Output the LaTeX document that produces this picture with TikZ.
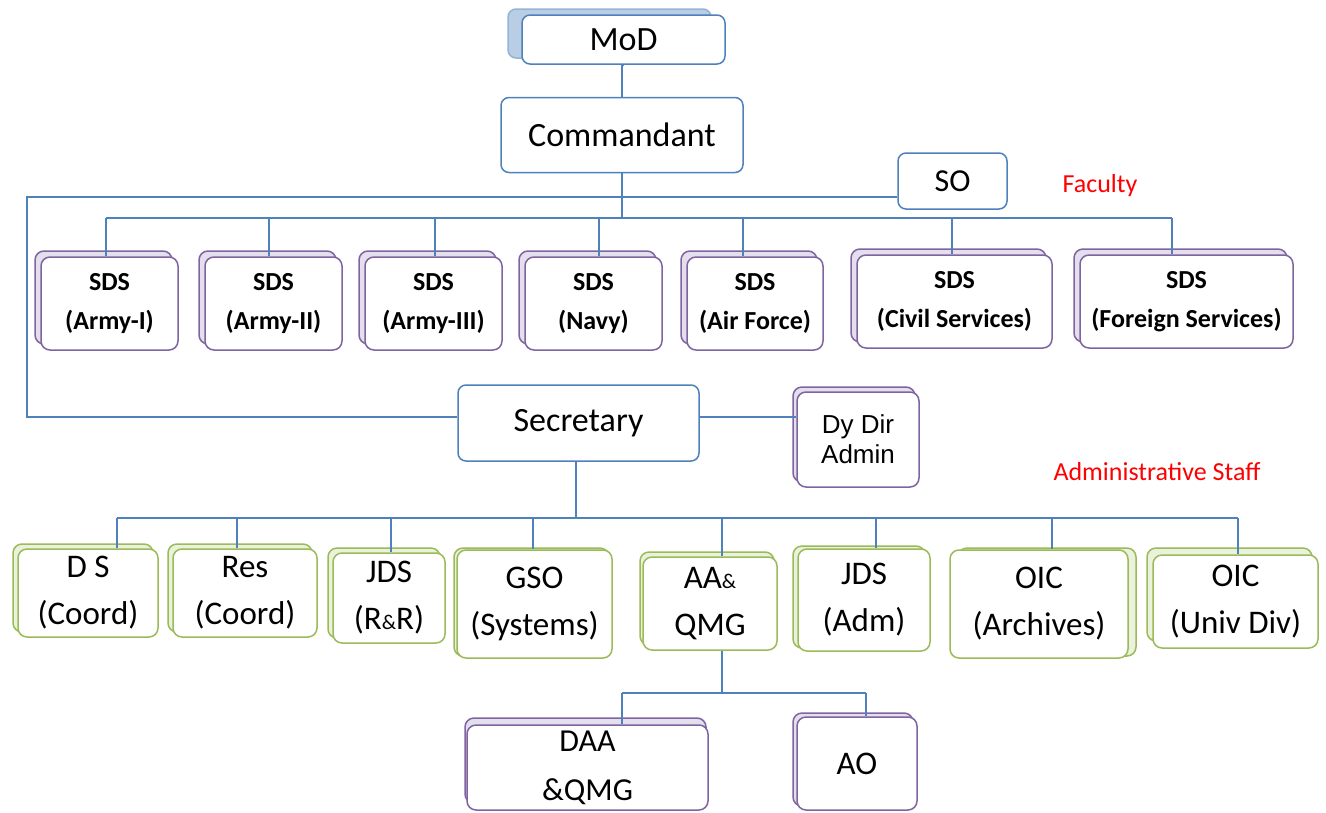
\documentclass[tikz,border=0pt]{standalone}
\usepackage{fontspec}
\setmainfont{Carlito}
\newfontfamily\arialf{Liberation Sans}
\usetikzlibrary{shadows}
\definecolor{lineblue}{HTML}{4F81BD}
\definecolor{purp}{HTML}{8064A2}
\definecolor{lav}{HTML}{E4DFEC}
\definecolor{grn}{HTML}{9BBB59}
\definecolor{lgrn}{HTML}{EAF1DD}
\definecolor{mbl}{HTML}{B9CDE5}
\definecolor{mbd}{HTML}{95B3D7}
\begin{document}
\begin{tikzpicture}[x=1pt,y=-1pt,
  ln/.style={draw=lineblue,line width=1.5pt},
  bbox/.style={draw=lineblue,line width=1.5pt,rounded corners=8pt,fill=white,inner sep=0pt,align=center,font=\fontsize{34}{40}\selectfont},
  pbox/.style={draw=purp,line width=1.5pt,rounded corners=9pt,fill=white,inner sep=0pt,align=center},
  psh/.style 2 args={copy shadow={fill=lav,draw=purp,line width=1.5pt,shadow xshift=#1,shadow yshift=#2}},
  sds/.style={pbox,font=\fontsize{26}{39}\selectfont\bfseries,psh={-6pt}{6pt}},
  gbox/.style={draw=grn,line width=1.5pt,rounded corners=9pt,fill=white,inner sep=0pt,align=center,font=\fontsize{33}{47}\selectfont},
  gsh/.style 2 args={copy shadow={fill=lgrn,draw=grn,line width=1.5pt,shadow xshift=#1,shadow yshift=#2}},
  lbl/.style={text=red,inner sep=0pt,font=\fontsize{26}{30}\selectfont}
]
\useasboundingbox (0,0) rectangle (1326,812);
\clip (0,0) rectangle (1326,812);
\fill[white] (0,0) rectangle (1326,812);

% top
\node[bbox,minimum width=203pt,minimum height=49pt,
  copy shadow={fill=mbl,draw=mbd,line width=1.5pt,shadow xshift=-14pt,shadow yshift=6pt}] (mod) at (623.5,39.5) {MoD};
\node[bbox,minimum width=242pt,minimum height=75pt] (cmd) at (622,135) {Commandant};
\node[bbox,minimum width=109pt,minimum height=56pt,font=\fontsize{32}{36}\selectfont] (so) at (952.5,181) {SO};
\node[lbl] (fac) at (1100,186) {Faculty};

% SDS row
\node[sds,minimum width=137pt,minimum height=93pt] (s1) at (109.5,303.5) {SDS\\(Army-I)};
\node[sds,minimum width=137pt,minimum height=93pt] (s2) at (273.5,303.5) {SDS\\(Army-II)};
\node[sds,minimum width=137pt,minimum height=93pt] (s3) at (433.5,303.5) {SDS\\(Army-III)};
\node[sds,minimum width=137pt,minimum height=93pt] (s4) at (593.5,303.5) {SDS\\(Navy)};
\node[sds,minimum width=136pt,minimum height=93pt] (s5) at (755,303.5) {SDS\\(Air Force)};
\node[sds,minimum width=195pt,minimum height=93pt] (s6) at (954.5,301.5) {SDS\\(Civil Services)};
\node[sds,minimum width=213pt,minimum height=93pt] (s7) at (1186.5,301.5) {SDS\\(Foreign Services)};

% secretary
\node[bbox,minimum width=241pt,minimum height=76pt] (sec) at (578.5,423) {Secretary};
\node[pbox,minimum width=122pt,minimum height=95pt,font=\arialf\fontsize{26}{30}\selectfont,psh={-4pt}{5pt}] (ddir) at (858,439.5) {Dy Dir\\Admin};
\node[lbl] (adm) at (1157,472) {Administrative Staff};

% green row
\node[gbox,gsh={-5pt}{5pt},minimum width=140pt,minimum height=88pt] (g1) at (88,593) {D S\\(Coord)};
\node[gbox,gsh={-5pt}{5pt},minimum width=144pt,minimum height=88pt] (g2) at (245,593) {Res\\(Coord)};
\node[gbox,gsh={-5pt}{5pt},minimum width=112pt,minimum height=90pt] (g3) at (389,598) {JDS\\(R{\fontsize{21}{21}\selectfont\&}R)};
\node[gbox,gsh={-3pt}{2pt},minimum width=155pt,minimum height=108pt] (g4) at (534.5,604) {GSO\\(Systems)};
\node[gbox,gsh={-3pt}{5pt},minimum width=134pt,minimum height=93pt] (g5) at (710,603.5) {AA{\fontsize{21}{21}\selectfont\&}\\QMG};
\node[gbox,gsh={-5pt}{3pt},minimum width=132pt,minimum height=102pt] (g6) at (864,600) {JDS\\(Adm)};
\node[gbox,gsh={8pt}{2pt},minimum width=178pt,minimum height=108pt] (g7) at (1039,604) {OIC\\(Archives)};
\node[gbox,gsh={-6pt}{7pt},minimum width=165pt,minimum height=93pt] (g8) at (1235.5,601.5) {OIC\\(Univ Div)};

% bottom
\node[pbox,psh={-2pt}{7pt},minimum width=241pt,minimum height=85pt,font=\fontsize{32}{49}\selectfont] (daa) at (587.5,767.5) {DAA\\\&QMG};
\node[pbox,psh={-4pt}{4pt},minimum width=120pt,minimum height=93pt,font=\fontsize{33}{38}\selectfont] (ao) at (857,763.5) {AO};

% coordinates
\coordinate (fb) at (622,218);
\coordinate (lc) at (27,197);
\coordinate (lc2) at (27,417);
\coordinate (d1) at (106,218);
\coordinate (d2) at (269,218);
\coordinate (d3) at (435,218);
\coordinate (d4) at (599,218);
\coordinate (d5) at (743,218);
\coordinate (d6) at (952,218);
\coordinate (d7) at (1172,218);
\coordinate (sb) at (576,518);
\coordinate (e1) at (117,518);
\coordinate (e2) at (237,518);
\coordinate (e3) at (391,518);
\coordinate (e4) at (533,518);
\coordinate (e5) at (722,518);
\coordinate (e6) at (876,518);
\coordinate (e7) at (1052,518);
\coordinate (e8) at (1238,518);
\coordinate (h0) at (722,693);
\coordinate (h1) at (622,693);
\coordinate (h2) at (866,693);

% connectors
\draw[ln] (mod.south) -- (cmd.south |- mod.south) -- (cmd.north);
\draw[ln] (cmd.south) -- (fb);
\draw[ln] (so.west |- lc) -- (lc) -- (lc2) -- (sec.west |- lc2);
\draw[ln] (sec.east |- lc2) -- (ddir.west |- lc2);
\draw[ln] (d1) -- (d7);
\foreach \i in {1,...,7}{\draw[ln] (d\i) -- (d\i |- s\i.north);}
\draw[ln] (sb |- sec.south) -- (sb);
\draw[ln] (e1) -- (e8);
\foreach \i in {1,...,8}{\draw[ln] (e\i) -- (e\i |- g\i.north);}
\draw[ln] (h0 |- g5.south) -- (h0);
\draw[ln] (h1) -- (h2);
\draw[ln] (h1) -- (h1 |- daa.north);
\draw[ln] (h2) -- (h2 |- ao.north);
\end{tikzpicture}
\end{document}
